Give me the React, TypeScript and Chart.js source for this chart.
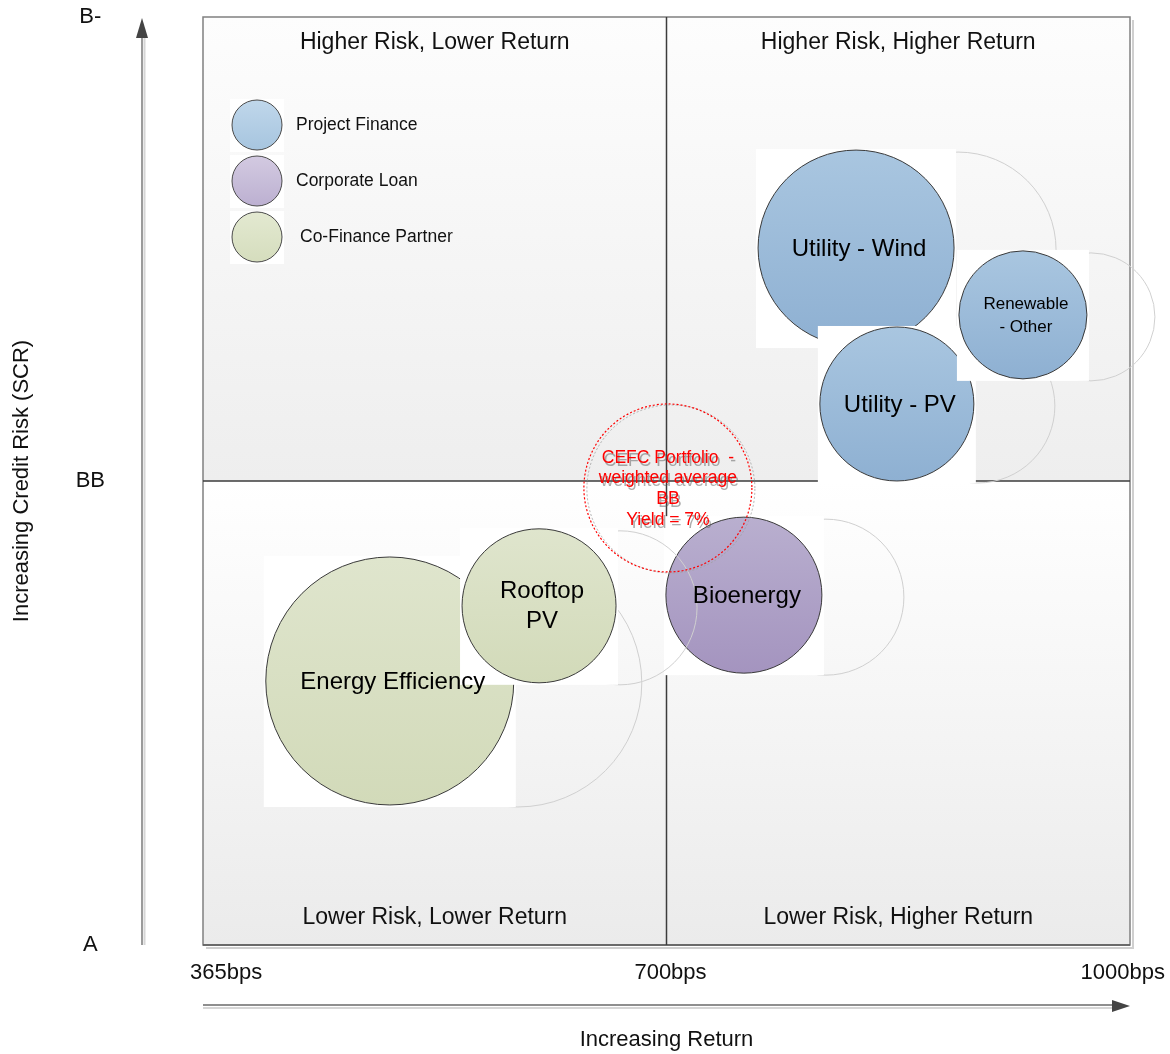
import React, { useEffect, useRef } from "react";
import { Chart, registerables } from "chart.js";

Chart.register(...registerables);

// ---- data ----
const bubbleNames = ["Energy Efficiency", "Bioenergy", "Rooftop\nPV", "Utility - Wind", "Utility - PV", "Renewable\n- Other"];
const bubbleGroups = [2, 1, 2, 0, 0, 0];
// position on the return axis: 0 = 365bps, 1 = 700bps, 2 = 1000bps
const returnPos = [0.403, 1.167, 0.725, 1.409, 1.497, 1.769];
// position on the credit risk axis: 0 = A, 1 = BB, 2 = B-
const riskPos = [0.569, 0.754, 0.731, 1.502, 1.166, 1.358];
const bubbleSize = [124, 78, 77, 98, 77, 64];

const groupNames = ["Project Finance", "Corporate Loan", "Co-Finance Partner"];
const groupTop = ["#a9c6e0", "#b9afcf", "#dfe5cd"];
const groupBottom = ["#8eb0d2", "#a494bf", "#d2dab9"];
const legendTop = ["#c0d7eb", "#d3cae1", "#e3e9d1"];
const legendBottom = ["#a7c5df", "#bcb0d1", "#d5ddbd"];

const portfolioLabel = ["CEFC Portfolio  -", "weighted average", "BB", "Yield = 7%"];
const portfolioReturn = [1.003];
const portfolioRisk = [0.985];
const portfolioSize = [84];

const xTickLabels = ["365bps", "700bps", "1000bps"];
const yTickLabels = ["A", "BB", "B-"];
const quadrantLabels = [
  "Higher Risk, Lower Return",
  "Higher Risk, Higher Return",
  "Lower Risk, Lower Return",
  "Lower Risk, Higher Return",
];
const xTitle = "Increasing Return";
const yTitle = "Increasing Credit Risk (SCR)";

const FONT = "'Liberation Sans', Arial, sans-serif";

const decorPlugin = {
  id: "decor",
  beforeDatasetsDraw(chart: any) {
    const { ctx, chartArea: a, scales } = chart;
    const xm = scales.x.getPixelForValue(1);
    const ym = scales.y.getPixelForValue(1);
    ctx.save();
    // quadrant backgrounds
    const quads = [
      [a.left, a.top, xm, ym],
      [xm, a.top, a.right, ym],
      [a.left, ym, xm, a.bottom],
      [xm, ym, a.right, a.bottom],
    ];
    quads.forEach(([l, t, r, b], i) => {
      const g = ctx.createLinearGradient(0, t, 0, b);
      if (i < 2) {
        g.addColorStop(0, "#fdfdfd");
        g.addColorStop(1, "#eeeeee");
      } else {
        g.addColorStop(0, "#ffffff");
        g.addColorStop(1, "#ebebeb");
      }
      ctx.fillStyle = g;
      ctx.fillRect(l, t, r - l, b - t);
    });
    // outer shadow
    ctx.strokeStyle = "#cfcfcf";
    ctx.lineWidth = 2;
    ctx.beginPath();
    ctx.moveTo(a.left + 3, a.bottom + 3);
    ctx.lineTo(a.right + 3, a.bottom + 3);
    ctx.lineTo(a.right + 3, a.top + 3);
    ctx.stroke();
    // borders
    ctx.strokeStyle = "#808080";
    ctx.lineWidth = 1.5;
    ctx.strokeRect(a.left, a.top, a.right - a.left, a.bottom - a.top);
    ctx.strokeStyle = "#5a5a5a";
    ctx.beginPath();
    ctx.moveTo(a.left, a.bottom);
    ctx.lineTo(a.right, a.bottom);
    ctx.stroke();
    ctx.strokeStyle = "#3c3c3c";
    ctx.beginPath();
    ctx.moveTo(xm, a.top);
    ctx.lineTo(xm, a.bottom);
    ctx.moveTo(a.left, ym);
    ctx.lineTo(a.right, ym);
    ctx.stroke();

    // quadrant labels
    ctx.fillStyle = "#111";
    ctx.font = `23px ${FONT}`;
    ctx.textAlign = "center";
    ctx.textBaseline = "middle";
    ctx.fillText(quadrantLabels[0], (a.left + xm) / 2, a.top + 26);
    ctx.fillText(quadrantLabels[1], (xm + a.right) / 2, a.top + 26);
    ctx.fillText(quadrantLabels[2], (a.left + xm) / 2, a.bottom - 27);
    ctx.fillText(quadrantLabels[3], (xm + a.right) / 2, a.bottom - 27);

    // legend
    groupNames.forEach((name, i) => {
      const cx = a.left + 54;
      const cy = a.top + 108 + i * 56;
      const r = 25;
      ctx.fillStyle = "#ffffff";
      ctx.fillRect(cx - r - 2, cy - r - 1, 2 * r + 4, 2 * r + 3);
      const g = ctx.createLinearGradient(0, cy - r, 0, cy + r);
      g.addColorStop(0, legendTop[i]);
      g.addColorStop(1, legendBottom[i]);
      ctx.beginPath();
      ctx.arc(cx, cy, r, 0, Math.PI * 2);
      ctx.fillStyle = g;
      ctx.fill();
      ctx.strokeStyle = "#4a4a4a";
      ctx.lineWidth = 1;
      ctx.stroke();
      ctx.fillStyle = "#111";
      ctx.font = `17.5px ${FONT}`;
      ctx.textAlign = "left";
      ctx.fillText(name, cx + (i === 2 ? 43 : 39), cy);
    });

    // y axis arrow
    const ax = a.left - 61;
    ctx.strokeStyle = "#d6d6d6";
    ctx.lineWidth = 2;
    ctx.beginPath();
    ctx.moveTo(ax + 2.5, a.top + 20);
    ctx.lineTo(ax + 2.5, a.bottom);
    ctx.stroke();
    ctx.strokeStyle = "#7a7a7a";
    ctx.lineWidth = 1.5;
    ctx.beginPath();
    ctx.moveTo(ax, a.top + 18);
    ctx.lineTo(ax, a.bottom);
    ctx.stroke();
    ctx.fillStyle = "#444";
    ctx.beginPath();
    ctx.moveTo(ax, a.top + 1);
    ctx.lineTo(ax - 6, a.top + 21);
    ctx.lineTo(ax + 6, a.top + 21);
    ctx.closePath();
    ctx.fill();

    // x axis arrow
    const ay = a.bottom + 60;
    ctx.strokeStyle = "#d6d6d6";
    ctx.lineWidth = 2;
    ctx.beginPath();
    ctx.moveTo(a.left, ay + 3);
    ctx.lineTo(a.right - 15, ay + 3);
    ctx.stroke();
    ctx.strokeStyle = "#6a6a6a";
    ctx.lineWidth = 1.5;
    ctx.beginPath();
    ctx.moveTo(a.left, ay);
    ctx.lineTo(a.right - 14, ay);
    ctx.stroke();
    ctx.fillStyle = "#444";
    ctx.beginPath();
    ctx.moveTo(a.right, ay + 1);
    ctx.lineTo(a.right - 18, ay - 5);
    ctx.lineTo(a.right - 18, ay + 7);
    ctx.closePath();
    ctx.fill();

    // x tick labels
    ctx.fillStyle = "#111";
    ctx.font = `22px ${FONT}`;
    ctx.textBaseline = "middle";
    xTickLabels.forEach((lab, i) => {
      const px = scales.x.getPixelForValue(i);
      if (i === 0) {
        ctx.textAlign = "left";
        ctx.fillText(lab, px - 13, a.bottom + 28);
      } else if (i === xTickLabels.length - 1) {
        ctx.textAlign = "right";
        ctx.fillText(lab, px + 35, a.bottom + 28);
      } else {
        ctx.textAlign = "center";
        ctx.fillText(lab, px + 4, a.bottom + 28);
      }
    });
    ctx.restore();
  },
  beforeDatasetDraw(chart: any, args: any) {
    const ds = chart.data.datasets[args.index];
    const el = args.meta.data[0];
    if (!el) return;
    const ctx = chart.ctx;
    const x = el.x;
    const y = el.y;
    const r = el.options.radius;
    if (ds.kind === "bubble") {
      ctx.save();
      ctx.strokeStyle = "#d0d0d0";
      ctx.lineWidth = 1;
      ctx.beginPath();
      ctx.arc(x + r + 4, y + 2, r, 0, Math.PI * 2);
      ctx.stroke();
      ctx.fillStyle = "#ffffff";
      ctx.fillRect(x - r - 2, y - r - 1, 2 * r + 4, 2 * r + 3);
      ctx.restore();
    } else {
      ctx.save();
      ctx.strokeStyle = "rgba(160,160,160,0.8)";
      ctx.lineWidth = 1;
      ctx.setLineDash([2, 2]);
      ctx.beginPath();
      ctx.arc(x + 3, y + 1, r, 0, Math.PI * 2);
      ctx.stroke();
      ctx.restore();
      ctx.setLineDash([2, 2]);
    }
  },
  afterDatasetDraw(chart: any) {
    chart.ctx.setLineDash([]);
  },
  afterDatasetsDraw(chart: any) {
    const ctx = chart.ctx;
    chart.data.datasets.forEach((ds: any, idx: number) => {
      const el = chart.getDatasetMeta(idx).data[0];
      if (!el) return;
      const x = el.x;
      const y = el.y;
      const r = el.options.radius;
      ctx.save();
      ctx.textAlign = "center";
      ctx.textBaseline = "middle";
      if (ds.kind === "bubble") {
        const lines = String(ds.label).split("\n");
        const size = r < 70 ? 17 : 24;
        const lh = r < 70 ? 23 : 30;
        ctx.font = `${size}px ${FONT}`;
        ctx.fillStyle = "#000";
        lines.forEach((ln, i) => {
          ctx.fillText(ln, x + 3, y + (i - (lines.length - 1) / 2) * lh + 1);
        });
      } else {
        ctx.font = `17.5px ${FONT}`;
        ctx.fillStyle = "#ff0000";
        ctx.shadowColor = "rgba(90,90,90,0.5)";
        ctx.shadowOffsetX = 2;
        ctx.shadowOffsetY = 3;
        ctx.shadowBlur = 0;
        portfolioLabel.forEach((ln, i) => {
          ctx.fillText(ln, x, y - 30 + i * 20.7);
        });
      }
      ctx.restore();
    });
  },
};

export default function App() {
  const canvasRef = useRef<HTMLCanvasElement | null>(null);

  useEffect(() => {
    if (!canvasRef.current) return;

    const bubbleSets = bubbleNames.map((name, i) => {
      const g = bubbleGroups[i];
      return {
        kind: "bubble",
        label: name,
        order: -i,
        clip: false,
        data: [{ x: returnPos[i], y: riskPos[i], r: bubbleSize[i] }],
        borderColor: "#3a3a3a",
        borderWidth: 1,
        backgroundColor: (c: any) => {
          const chart = c.chart;
          if (!chart.chartArea || !c.raw) return groupTop[g];
          const yp = chart.scales.y.getPixelForValue(c.raw.y);
          const grad = chart.ctx.createLinearGradient(0, yp - c.raw.r, 0, yp + c.raw.r);
          grad.addColorStop(0, groupTop[g]);
          grad.addColorStop(1, groupBottom[g]);
          return grad;
        },
      };
    });
    const portfolioSet = {
      kind: "portfolio",
      label: portfolioLabel.join(" "),
      order: -bubbleNames.length,
      clip: false,
      data: portfolioReturn.map((v, i) => ({ x: v, y: portfolioRisk[i], r: portfolioSize[i] })),
      borderColor: "#ff0000",
      borderWidth: 1.2,
      backgroundColor: "rgba(0,0,0,0)",
    };

    const chart = new Chart(canvasRef.current, {
      type: "bubble",
      data: { datasets: [...bubbleSets, portfolioSet] as any },
      options: {
        responsive: false,
        animation: false,
        events: [],
        layout: { autoPadding: false, padding: { top: 17, right: 40, left: 0, bottom: 0 } },
        plugins: {
          legend: { display: false },
          tooltip: { enabled: false },
        },
        scales: {
          x: {
            type: "linear",
            min: 0,
            max: 2,
            grid: { display: false },
            border: { display: false },
            ticks: { display: false, stepSize: 1 },
            title: {
              display: true,
              text: xTitle,
              color: "#111",
              font: { family: FONT, size: 22 },
              padding: { top: 0, bottom: 1 },
            },
            afterFit: (s: any) => {
              s.height = 109;
              s.paddingLeft = 0;
              s.paddingRight = 0;
            },
          },
          y: {
            type: "linear",
            min: 0,
            max: 2,
            grid: { display: false },
            border: { display: false },
            ticks: {
              stepSize: 1,
              autoSkip: false,
              crossAlign: "center",
              padding: 90,
              color: "#111",
              font: { family: FONT, size: 22 },
              callback: (v: any) => yTickLabels[Number(v)] ?? "",
            },
            title: {
              display: true,
              text: yTitle,
              color: "#111",
              font: { family: FONT, size: 22 },
              padding: { top: 9, bottom: 0 },
            },
            afterFit: (s: any) => {
              s.width = 203;
              s.paddingTop = 0;
              s.paddingBottom = 0;
            },
          },
        },
      } as any,
      plugins: [decorPlugin as any],
    });
    return () => chart.destroy();
  }, []);

  return (
    <div style={{ position: "absolute", left: 0, top: 0, width: 1170, height: 1054, background: "#fff" }}>
      <canvas ref={canvasRef} width={1170} height={1054} style={{ display: "block" }} />
    </div>
  );
}
